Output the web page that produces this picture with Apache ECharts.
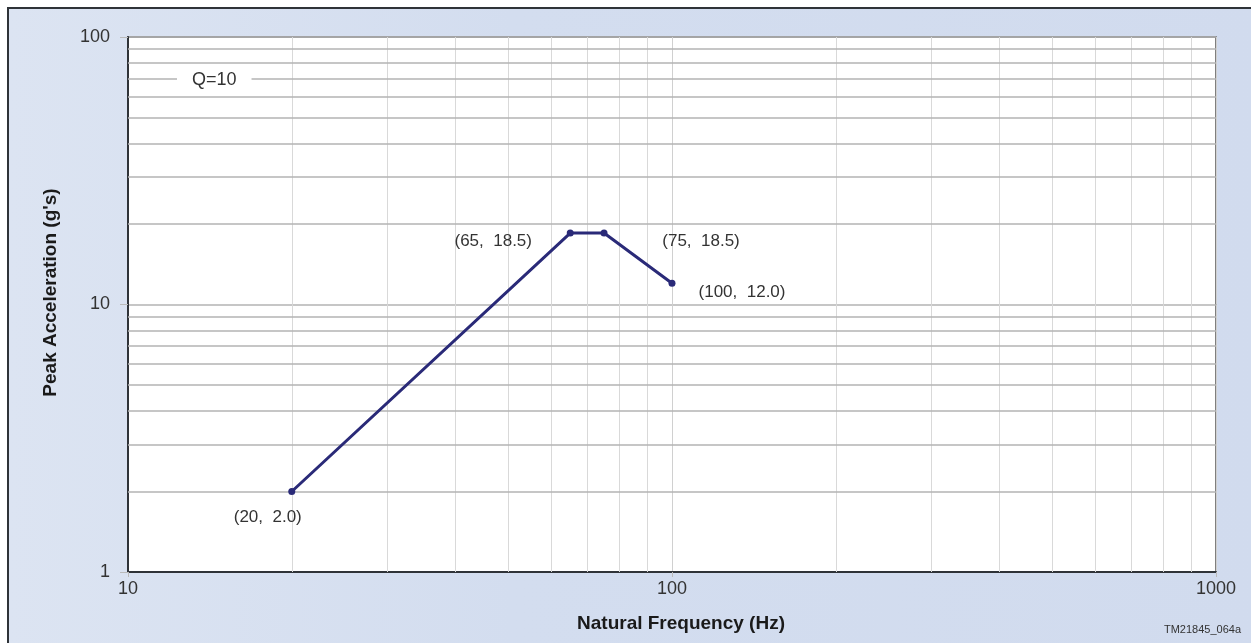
<!DOCTYPE html>
<html>
<head>
<meta charset="utf-8">
<script src="https://cdn.jsdelivr.net/npm/echarts@6/dist/echarts.min.js"></script>
<style>
  html, body { margin: 0; padding: 0; background: #ffffff; }
  #wrap { position: relative; width: 1251px; height: 643px; overflow: hidden; background: #ffffff; }
  #frame { position: absolute; left: 7px; top: 7px; width: 1260px; height: 660px;
           border-left: 2px solid #2f3338; border-top: 2px solid #2f3338;
           background: linear-gradient(to right, #dce4f2 0%, #d3ddef 40%, #d1dbee 100%); }
  #chart { position: absolute; left: 0; top: 0; width: 1251px; height: 643px; }
</style>
</head>
<body>
<div id="wrap"><div id="frame"></div><div id="chart"></div></div>
<script>
// Data
const freqHz = [20, 65, 75, 100];
const peakAccel = [2.0, 18.5, 18.5, 12.0];
const xMinorGrid = [20, 30, 40, 50, 60, 70, 80, 90, 200, 300, 400, 500, 600, 700, 800, 900];
const yMinorGrid = [2, 3, 4, 5, 6, 7, 8, 9, 20, 30, 40, 50, 60, 70, 80, 90];
const xTicks = [10, 100, 1000];
const yTicks = [1, 10, 100];
const xTitle = 'Natural Frequency (Hz)';
const yTitle = "Peak Acceleration (g's)";
const noteText = 'Q=10';
const figId = 'TM21845_064a';
const labelOffsets = [[-24, 26], [-77, 8], [97, 8], [70, 9]];

const FONT = '"Liberation Sans", Arial, sans-serif';
const chart = echarts.init(document.getElementById('chart'), null, { renderer: 'canvas' });

const pointData = freqHz.map((f, i) => ({
  value: [f, peakAccel[i]],
  label: {
    show: true,
    position: 'inside',
    offset: labelOffsets[i],
    formatter: '(' + f + ',  ' + peakAccel[i].toFixed(1) + ')'
  }
}));

const gridLines = []
  .concat(xMinorGrid.map(v => ({ xAxis: v, lineStyle: { color: '#d9d9d9', width: 1, type: 'solid' } })))
  .concat(yMinorGrid.map(v => ({ yAxis: v, lineStyle: { color: '#b3b3b3', width: 1.5, type: 'solid' } })));

chart.setOption({
  animation: false,
  backgroundColor: 'transparent',
  textStyle: { fontFamily: FONT },
  title: [
    {
      text: noteText, left: 177, top: 69,
      backgroundColor: '#ffffff', padding: [2, 15, 2, 15],
      textStyle: { fontSize: 18, fontWeight: 'normal', color: '#333333', fontFamily: FONT }
    },
    {
      text: figId, right: 10, top: 624, padding: 0,
      textStyle: { fontSize: 11, fontWeight: 'normal', color: '#333333', fontFamily: FONT }
    }
  ],
  grid: {
    left: 128, right: 35, top: 37, bottom: 71,
    show: true, backgroundColor: '#ffffff', borderColor: '#555555', borderWidth: 1.5,
    containLabel: false
  },
  xAxis: {
    type: 'log', logBase: 10, min: xTicks[0], max: xTicks[xTicks.length - 1],
    name: xTitle, nameLocation: 'middle', nameGap: 42,
    nameTextStyle: { fontSize: 19, fontWeight: 'bold', color: '#1a1a1a', fontFamily: FONT, padding: [0, 0, 0, 18] },
    axisLine: { show: true, lineStyle: { color: '#2f3338', width: 2 } },
    axisTick: { show: true, length: 5, lineStyle: { color: '#bbbbbb' } },
    axisLabel: { fontSize: 18, color: '#333333', margin: 8, fontFamily: FONT, formatter: v => String(v) },
    splitLine: { show: true, lineStyle: { color: '#d0d0d0', width: 1 } },
    minorTick: { show: false }, minorSplitLine: { show: false }
  },
  yAxis: {
    type: 'log', logBase: 10, min: yTicks[0], max: yTicks[yTicks.length - 1],
    name: yTitle, nameLocation: 'middle', nameGap: 68, nameRotate: 90,
    nameTextStyle: { fontSize: 19, fontWeight: 'bold', color: '#1a1a1a', fontFamily: FONT, padding: [0, 0, 0, 24] },
    axisLine: { show: true, lineStyle: { color: '#2f3338', width: 2 } },
    axisTick: { show: true, length: 8, lineStyle: { color: '#bbbbbb' } },
    axisLabel: { fontSize: 18, color: '#333333', margin: 18, fontFamily: FONT, formatter: v => String(v) },
    splitLine: { show: true, lineStyle: { color: '#b3b3b3', width: 1.5 } },
    minorTick: { show: false }, minorSplitLine: { show: false }
  },
  series: [
    {
      type: 'line',
      data: pointData,
      symbol: 'circle', symbolSize: 7,
      lineStyle: { color: '#2a2a78', width: 3 },
      itemStyle: { color: '#2a2a78' },
      label: { fontSize: 17, color: '#333333', fontFamily: FONT },
      z: 5,
      markLine: {
        silent: true, symbol: ['none', 'none'], animation: false,
        label: { show: false }, emphasis: { disabled: true },
        data: gridLines
      }
    }
  ]
});
</script>
</body>
</html>
